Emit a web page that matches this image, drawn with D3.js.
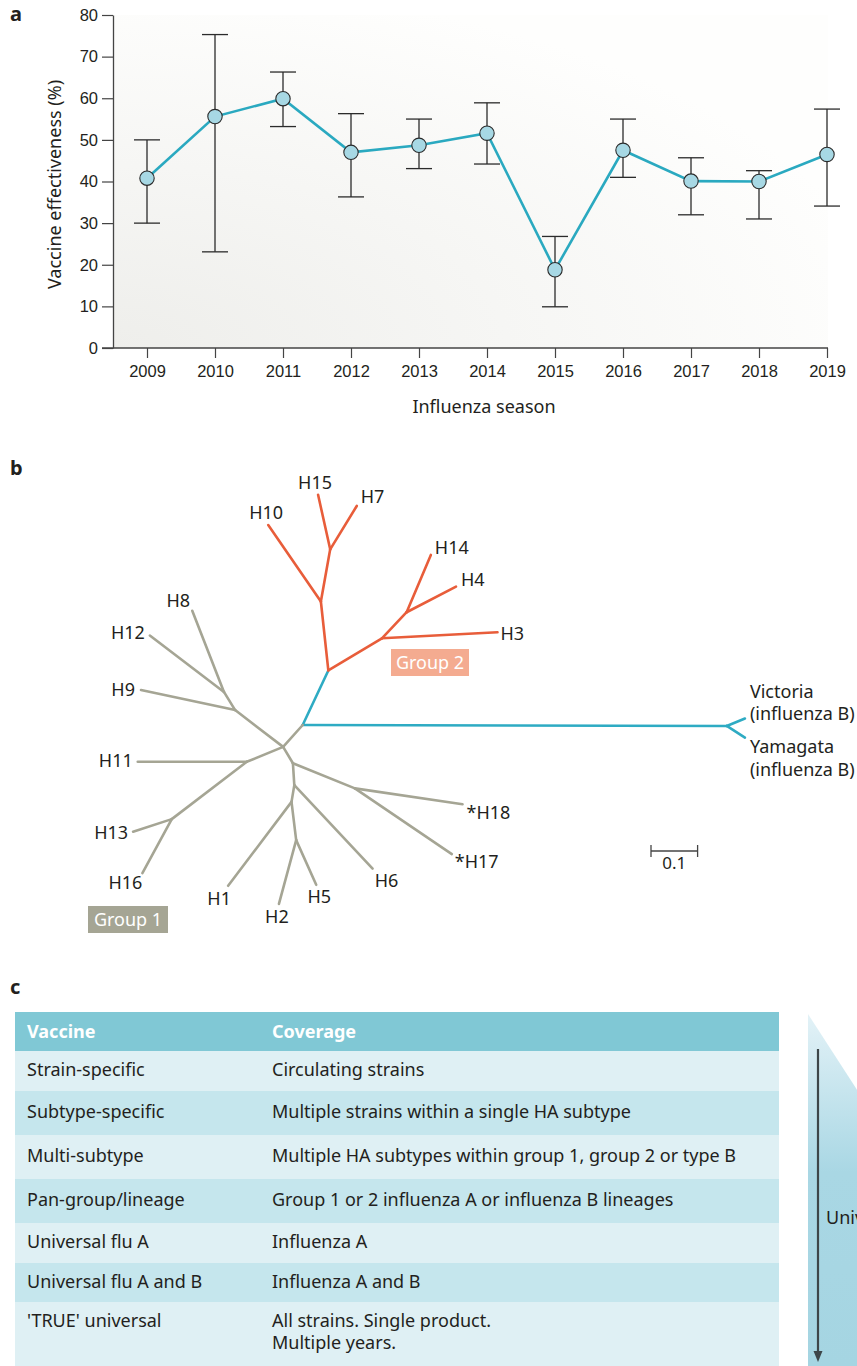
<!DOCTYPE html>
<html>
<head>
<meta charset="utf-8">
<script src="https://cdn.jsdelivr.net/npm/d3@7"></script>
<style>
  body { margin: 0; background: #fff; }
  svg { display: block; font-family: "Noto Sans", "Open Sans", sans-serif; }
</style>
</head>
<body>
<svg id="fig" width="857" height="1366"></svg>
<script>
// ---- panel a data ----
const seasons = ["2009", "2010", "2011", "2012", "2013", "2014", "2015", "2016", "2017", "2018", "2019"];
const effectiveness = [40.8, 55.6, 59.9, 47.0, 48.7, 51.6, 18.8, 47.5, 40.1, 40.0, 46.5];
const ciLow = [30.0, 23.1, 53.2, 36.3, 43.1, 44.2, 9.9, 41.0, 32.0, 31.0, 34.1];
const ciHigh = [50.0, 75.3, 66.3, 56.3, 55.0, 58.9, 26.8, 55.0, 45.7, 42.6, 57.4];
const yTicks = [0, 10, 20, 30, 40, 50, 60, 70, 80];

// ---- panel b data: tree nodes in branch-length units (root = B/A split) ----
const treeNodes = [
  { id: "R", x: 0, y: 0 },
  { id: "BF", x: 0.910, y: 0.002 },
  { id: "Victoria", x: 0.949, y: -0.014 },
  { id: "Yamagata", x: 0.949, y: 0.027 },
  { id: "G2", x: 0.055, y: -0.117 },
  { id: "G2a", x: 0.039, y: -0.265 },
  { id: "H10", x: -0.074, y: -0.429 },
  { id: "G2b", x: 0.059, y: -0.377 },
  { id: "H15", x: 0.033, y: -0.494 },
  { id: "H7", x: 0.116, y: -0.470 },
  { id: "G2c", x: 0.170, y: -0.186 },
  { id: "H3", x: 0.418, y: -0.199 },
  { id: "G2d", x: 0.223, y: -0.242 },
  { id: "H14", x: 0.275, y: -0.365 },
  { id: "H4", x: 0.329, y: -0.297 },
  { id: "J", x: -0.042, y: 0.047 },
  { id: "G1a", x: -0.145, y: -0.032 },
  { id: "H9", x: -0.347, y: -0.075 },
  { id: "G1b", x: -0.169, y: -0.071 },
  { id: "H12", x: -0.328, y: -0.192 },
  { id: "H8", x: -0.237, y: -0.245 },
  { id: "G1c", x: -0.120, y: 0.079 },
  { id: "H11", x: -0.354, y: 0.079 },
  { id: "G1d", x: -0.281, y: 0.202 },
  { id: "H13", x: -0.364, y: 0.229 },
  { id: "H16", x: -0.344, y: 0.318 },
  { id: "A", x: -0.021, y: 0.082 },
  { id: "B", x: 0.112, y: 0.136 },
  { id: "*H18", x: 0.343, y: 0.170 },
  { id: "*H17", x: 0.320, y: 0.277 },
  { id: "C", x: -0.018, y: 0.129 },
  { id: "H6", x: 0.150, y: 0.308 },
  { id: "D", x: -0.024, y: 0.165 },
  { id: "H1", x: -0.160, y: 0.345 },
  { id: "E", x: -0.014, y: 0.247 },
  { id: "H2", x: -0.051, y: 0.384 },
  { id: "H5", x: 0.029, y: 0.343 }
];
// [parent, child, clade]
const treeEdges = [
  ["R", "BF", "B"], ["BF", "Victoria", "B"], ["BF", "Yamagata", "B"],
  ["R", "G2", "B"],
  ["G2", "G2a", "g2"], ["G2a", "H10", "g2"], ["G2a", "G2b", "g2"], ["G2b", "H15", "g2"], ["G2b", "H7", "g2"],
  ["G2", "G2c", "g2"], ["G2c", "H3", "g2"], ["G2c", "G2d", "g2"], ["G2d", "H14", "g2"], ["G2d", "H4", "g2"],
  ["R", "J", "g1"], ["J", "G1a", "g1"], ["G1a", "H9", "g1"], ["G1a", "G1b", "g1"], ["G1b", "H12", "g1"], ["G1b", "H8", "g1"],
  ["J", "G1c", "g1"], ["G1c", "H11", "g1"], ["G1c", "G1d", "g1"], ["G1d", "H13", "g1"], ["G1d", "H16", "g1"],
  ["J", "A", "g1"], ["A", "B", "g1"], ["B", "*H18", "g1"], ["B", "*H17", "g1"],
  ["A", "C", "g1"], ["C", "H6", "g1"], ["C", "D", "g1"], ["D", "H1", "g1"], ["D", "E", "g1"], ["E", "H2", "g1"], ["E", "H5", "g1"]
];
const scaleBarLength = 0.1;

// ---- panel c data ----
const tableHeader = ["Vaccine", "Coverage"];
const vaccines = ["Strain-specific", "Subtype-specific", "Multi-subtype", "Pan-group/lineage", "Universal flu A", "Universal flu A and B", "'TRUE' universal"];
const coverage = [
  ["Circulating strains"],
  ["Multiple strains within a single HA subtype"],
  ["Multiple HA subtypes within group 1, group 2 or type B"],
  ["Group 1 or 2 influenza A or influenza B lineages"],
  ["Influenza A"],
  ["Influenza A and B"],
  ["All strains. Single product.", "Multiple years."]
];

const ink = "#231f20";
const svg = d3.select("#fig");
const defs = svg.append("defs");

// panel letters
[["a", 21], ["b", 475], ["c", 994]].forEach(([t, y]) => {
  svg.append("text").attr("x", 10).attr("y", y).text(t)
    .attr("font-size", 20).attr("font-weight", "bold").attr("fill", ink);
});

// ================= panel a =================
const x = d3.scalePoint().domain(seasons).range([147, 827]);
const y = d3.scaleLinear().domain([0, 80]).range([348, 15]);

const bg = defs.append("radialGradient").attr("id", "plotbg")
  .attr("cx", "0%").attr("cy", "100%").attr("r", "110%");
bg.append("stop").attr("offset", "0%").attr("stop-color", "#eeeeeb");
bg.append("stop").attr("offset", "100%").attr("stop-color", "#fefefd");

const pa = svg.append("g");
pa.append("rect").attr("x", 113).attr("y", y(80)).attr("width", 828 - 113).attr("height", y(0) - y(80))
  .attr("fill", "url(#plotbg)");

const yAxis = pa.append("g").attr("transform", "translate(113,0)")
  .call(d3.axisLeft(y).tickValues(yTicks).tickSize(11).tickPadding(4).tickSizeOuter(0));
yAxis.select(".domain").attr("stroke", "#444").attr("stroke-width", 1.3);
yAxis.selectAll(".tick line").attr("stroke", "#444").attr("stroke-width", 1.2);
yAxis.selectAll("text").attr("font-size", 16.5).attr("fill", ink).attr("font-family", null);

const xAxis = pa.append("g").attr("transform", `translate(0,${y(0)})`)
  .call(d3.axisBottom(x).tickSize(10).tickPadding(7).tickSizeOuter(0));
xAxis.select(".domain").remove();
xAxis.append("line").attr("x1", 102).attr("x2", 828).attr("stroke", "#444").attr("stroke-width", 1.3);
xAxis.selectAll(".tick line").attr("stroke", "#444").attr("stroke-width", 1.2);
xAxis.selectAll("text").attr("font-size", 16.5).attr("fill", ink).attr("font-family", null);

pa.append("text").attr("transform", "translate(55,184.5) rotate(-90)")
  .attr("text-anchor", "middle").attr("dy", "0.35em").attr("font-size", 18).attr("fill", ink)
  .text("Vaccine effectiveness (%)");
pa.append("text").attr("x", 484).attr("y", 413).attr("text-anchor", "middle")
  .attr("font-size", 18).attr("fill", ink).text("Influenza season");

const pts = seasons.map((s, i) => ({ s, v: effectiveness[i], lo: ciLow[i], hi: ciHigh[i] }));
const err = pa.append("g").attr("stroke", "#2b2b2b").attr("stroke-width", 1.3);
pts.forEach(d => {
  const cx = x(d.s);
  err.append("line").attr("x1", cx).attr("x2", cx).attr("y1", y(d.lo)).attr("y2", y(d.hi));
  err.append("line").attr("x1", cx - 13).attr("x2", cx + 13).attr("y1", y(d.lo)).attr("y2", y(d.lo));
  err.append("line").attr("x1", cx - 13).attr("x2", cx + 13).attr("y1", y(d.hi)).attr("y2", y(d.hi));
});
pa.append("path").datum(pts)
  .attr("d", d3.line().x(d => x(d.s)).y(d => y(d.v)))
  .attr("fill", "none").attr("stroke", "#2aa9c0").attr("stroke-width", 2.6);
pa.selectAll("circle.pt").data(pts).join("circle").attr("class", "pt")
  .attr("cx", d => x(d.s)).attr("cy", d => y(d.v)).attr("r", 7.2)
  .attr("fill", "#a7d8e4").attr("stroke", "#2b2b2b").attr("stroke-width", 1.1);

// ================= panel b =================
const tx = d3.scaleLinear().domain([0, 1]).range([302.7, 768.7]);
const ty = d3.scaleLinear().domain([0, 1]).range([725, 1191]);
const byId = new Map(treeNodes.map(n => [n.id, n]));
const cladeColor = { B: "#2eabc3", g2: "#e85d3a", g1: "#a5a594" };

const pb = svg.append("g");
pb.selectAll("line.edge").data(treeEdges).join("line").attr("class", "edge")
  .attr("x1", d => tx(byId.get(d[0]).x)).attr("y1", d => ty(byId.get(d[0]).y))
  .attr("x2", d => tx(byId.get(d[1]).x)).attr("y2", d => ty(byId.get(d[1]).y))
  .attr("stroke", d => cladeColor[d[2]]).attr("stroke-width", 2.6).attr("stroke-linecap", "round");

// label placement relative to tip: [dx, dy, anchor]
const labelLayout = {
  H15: [-3, -12, "middle"], H7: [4, -9, "start"], H10: [-2, -12, "middle"],
  H14: [4, -7, "start"], H4: [5, -7, "start"], H3: [3, 1, "start"],
  H8: [-14, -10, "middle"], H12: [-5, -3, "end"], H9: [-6, 0, "end"],
  H11: [-5, -1, "end"], H13: [-5, 1, "end"], H16: [-17, 10, "middle"],
  H1: [-9, 13, "middle"], H2: [-2, 13, "middle"], H5: [3, 12, "middle"],
  H6: [14, 12, "middle"], "*H18": [4, 8, "start"], "*H17": [3, 8, "start"]
};
Object.entries(labelLayout).forEach(([id, [dx, dy, anchor]]) => {
  const n = byId.get(id);
  pb.append("text").attr("x", tx(n.x) + dx).attr("y", ty(n.y) + dy).attr("dy", "0.35em")
    .attr("text-anchor", anchor).attr("font-size", 18).attr("fill", ink).text(id);
});

// influenza B labels
[["Victoria", ["Victoria", "(influenza B)"], -27], ["Yamagata", ["Yamagata", "(influenza B)"], 9.5]].forEach(([id, lines, dy]) => {
  const n = byId.get(id);
  const t = pb.append("text").attr("x", tx(n.x) + 5).attr("y", ty(n.y) + dy).attr("font-size", 18).attr("fill", ink);
  lines.forEach((l, i) => t.append("tspan").attr("x", tx(n.x) + 5).attr("dy", i === 0 ? "0.35em" : "1.23em").text(l));
});

// group boxes
[["Group 2", 391, 649, 78, 27, "#f4ab90"], ["Group 1", 88, 906, 80, 27, "#a5a594"]].forEach(([t, bx, by, w, h, c]) => {
  pb.append("rect").attr("x", bx).attr("y", by).attr("width", w).attr("height", h).attr("fill", c);
  pb.append("text").attr("x", bx + w / 2).attr("y", by + h / 2).attr("dy", "0.35em")
    .attr("text-anchor", "middle").attr("font-size", 18).attr("fill", "#fff").text(t);
});

// scale bar
const sbX0 = 651, sbY = 851;
const sbX1 = sbX0 + (tx(scaleBarLength) - tx(0));
const sb = pb.append("g").attr("stroke", "#444").attr("stroke-width", 1.3);
sb.append("line").attr("x1", sbX0).attr("x2", sbX1).attr("y1", sbY).attr("y2", sbY);
sb.append("line").attr("x1", sbX0).attr("x2", sbX0).attr("y1", sbY - 6).attr("y2", sbY + 6);
sb.append("line").attr("x1", sbX1).attr("x2", sbX1).attr("y1", sbY - 6).attr("y2", sbY + 6);
pb.append("text").attr("x", (sbX0 + sbX1) / 2).attr("y", sbY + 12).attr("dy", "0.35em")
  .attr("text-anchor", "middle").attr("font-size", 17).attr("fill", ink).text(String(scaleBarLength));

// ================= panel c =================
const pc = svg.append("g");
const rowEdges = [1012, 1051, 1091, 1135, 1179, 1223, 1263, 1302, 1366];
const col = [27, 272];
const tableRight = 779;

pc.append("rect").attr("x", 15).attr("y", rowEdges[0]).attr("width", tableRight - 15)
  .attr("height", rowEdges[1] - rowEdges[0]).attr("fill", "#80c8d5");
tableHeader.forEach((h, i) => {
  pc.append("text").attr("x", col[i]).attr("y", (rowEdges[0] + rowEdges[1]) / 2).attr("dy", "0.35em")
    .attr("font-size", 18).attr("font-weight", "bold").attr("fill", "#fff").text(h);
});
vaccines.forEach((v, i) => {
  const top = rowEdges[i + 1], bot = rowEdges[i + 2];
  pc.append("rect").attr("x", 15).attr("y", top).attr("width", tableRight - 15).attr("height", bot - top)
    .attr("fill", i % 2 === 0 ? "#dff0f4" : "#c5e6ed");
  const single = coverage[i].length === 1;
  const cy = single ? (top + bot) / 2 - 1 : top + 19;
  pc.append("text").attr("x", col[0]).attr("y", cy).attr("dy", "0.35em")
    .attr("font-size", 18).attr("fill", ink).text(v);
  const t = pc.append("text").attr("x", col[1]).attr("y", cy).attr("font-size", 18).attr("fill", ink);
  coverage[i].forEach((l, j) => t.append("tspan").attr("x", col[1]).attr("dy", j === 0 ? "0.35em" : "1.23em").text(l));
});

// universality wedge
const wg = defs.append("linearGradient").attr("id", "wedge").attr("x1", 0).attr("y1", 0).attr("x2", 0).attr("y2", 1);
wg.append("stop").attr("offset", "0%").attr("stop-color", "#e3f2f7");
wg.append("stop").attr("offset", "45%").attr("stop-color", "#a9d7e4");
wg.append("stop").attr("offset", "100%").attr("stop-color", "#a5d5e2");
pc.append("path").attr("d", "M808,1014 L870,1110 L870,1366 L808,1366 Z").attr("fill", "url(#wedge)");
pc.append("line").attr("x1", 818).attr("x2", 818).attr("y1", 1049).attr("y2", 1354)
  .attr("stroke", "#3d4649").attr("stroke-width", 2.2);
pc.append("path").attr("d", "M813.5,1351 L822.5,1351 L818,1362 Z").attr("fill", "#3d4649");
pc.append("text").attr("x", 826).attr("y", 1218).attr("dy", "0.35em").attr("font-size", 18)
  .attr("fill", ink).text("Universality");
</script>
</body>
</html>
